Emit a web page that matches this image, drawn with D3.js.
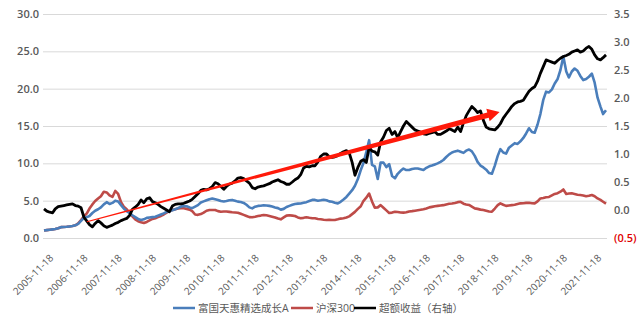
<!DOCTYPE html>
<html>
<head>
<meta charset="utf-8">
<script src="https://cdn.jsdelivr.net/npm/d3@7/dist/d3.min.js"></script>
<style>
    body { margin: 0; background: #fff; }
    text { font-family: "Open Sans", "Noto Sans CJK SC", sans-serif; }
</style>
</head>
<body>
<div id="chart"></div>
<script>
// monthly points, first one is 2005-11-18
var startDate = "2005-11-18";

var fundValues = [1.0, 1.05, 1.1, 1.15, 1.2, 1.3, 1.45, 1.47, 1.5, 1.55, 1.6, 1.7, 1.9, 2.3, 2.7, 2.8, 2.95, 3.35, 3.65, 3.85,
    4.1, 4.5, 4.8, 4.55, 4.7, 5.0, 4.9, 4.4, 3.95, 3.6, 3.35, 3.05, 2.8, 2.55, 2.42, 2.5, 2.7, 2.75, 2.8, 2.85,
    3.0, 3.15, 3.3, 3.5, 3.6, 3.72, 3.85, 4.0, 4.2, 4.28, 4.25, 4.1, 4.0, 4.2, 4.4, 4.75, 4.9, 5.05, 5.2, 5.3,
    5.2, 5.1, 4.95, 4.88, 4.95, 5.05, 5.1, 5.0, 4.87, 4.82, 4.7, 4.45, 4.1, 3.97, 4.2, 4.3, 4.32, 4.38, 4.36, 4.3,
    4.22, 4.1, 4.0, 3.8, 3.9, 4.15, 4.3, 4.45, 4.55, 4.6, 4.63, 4.72, 4.8, 4.95, 5.1, 5.1, 5.0, 5.05, 5.12, 5.05,
    4.9, 4.85, 4.72, 4.64, 4.85, 5.15, 5.5, 5.95, 6.4, 7.0, 7.9, 9.1, 10.0, 11.5, 13.1, 9.8, 9.6, 7.9, 10.1, 10.1,
    9.5, 9.9, 8.3, 8.0, 8.6, 9.0, 9.3, 9.1, 9.1, 9.25, 9.3, 9.3, 9.2, 9.1, 9.4, 9.6, 9.7, 9.85, 10.0, 10.2,
    10.45, 10.85, 11.2, 11.45, 11.6, 11.7, 11.55, 11.4, 11.7, 11.85, 11.6, 11.0, 10.2, 9.7, 9.45, 9.15, 8.7, 8.6, 9.7, 11.0,
    11.9, 11.45, 11.3, 12.1, 12.4, 12.7, 12.6, 12.95, 13.4, 14.0, 14.7, 14.2, 14.1, 15.2, 16.6, 18.5, 19.6, 19.5, 19.9, 20.7,
    21.3, 22.5, 24.3, 22.3, 21.5, 22.3, 22.7, 22.4, 21.7, 21.15, 21.3, 21.6, 22.0, 20.8, 18.8, 17.6, 16.6, 17.1];

var hs300Values = [1.0, 1.05, 1.1, 1.15, 1.2, 1.3, 1.45, 1.47, 1.5, 1.55, 1.6, 1.7, 1.95, 2.4, 2.9, 3.3, 3.95, 4.5, 4.95, 5.3,
    5.6, 6.2, 6.1, 5.7, 5.5, 6.3, 5.9, 4.8, 4.2, 3.85, 3.4, 2.9, 2.5, 2.25, 2.1, 2.0, 2.15, 2.35, 2.55, 2.65,
    2.8, 2.95, 3.15, 3.4, 3.6, 3.75, 3.85, 3.95, 4.0, 3.98, 3.9, 3.8, 3.6, 3.15, 3.1, 3.2, 3.4, 3.65, 3.75, 3.75,
    3.75, 3.6, 3.52, 3.55, 3.55, 3.5, 3.45, 3.42, 3.39, 3.25, 3.1, 2.95, 2.8, 2.78, 2.85, 2.95, 3.0, 3.08, 3.04, 2.95,
    2.86, 2.75, 2.6, 2.5, 2.75, 3.0, 3.05, 3.0, 2.95, 2.75, 2.65, 2.7, 2.77, 2.7, 2.64, 2.64, 2.55, 2.5, 2.45, 2.41,
    2.45, 2.42, 2.41, 2.5, 2.6, 2.65, 2.75, 2.9, 3.2, 3.5, 3.9, 4.25, 4.95, 5.4, 5.95, 4.9, 4.05, 4.1, 4.4, 4.05,
    3.7, 3.35, 3.4, 3.52, 3.48, 3.42, 3.4, 3.45, 3.55, 3.6, 3.66, 3.72, 3.78, 3.84, 3.95, 4.1, 4.17, 4.25, 4.3, 4.35,
    4.4, 4.5, 4.58, 4.63, 4.7, 4.8, 4.85, 4.6, 4.5, 4.42, 4.2, 3.97, 3.9, 3.8, 3.75, 3.65, 3.55, 3.52, 3.95, 4.4,
    4.64, 4.45, 4.3, 4.35, 4.4, 4.45, 4.55, 4.64, 4.66, 4.7, 4.73, 4.66, 4.64, 4.9, 5.3, 5.35, 5.45, 5.5, 5.7, 5.9,
    6.0, 6.2, 6.5, 5.9, 5.95, 5.98, 5.9, 5.8, 5.76, 5.7, 5.6, 5.65, 5.76, 5.6, 5.3, 5.1, 4.86, 4.6];

var excessValues = [0.02, -0.02, -0.04, -0.05, 0.02, 0.06, 0.07, 0.08, 0.09, 0.1, 0.11, 0.08, 0.07, 0.04, -0.13, -0.2, -0.26, -0.3, -0.24, -0.19,
    -0.23, -0.28, -0.31, -0.29, -0.27, -0.24, -0.22, -0.19, -0.17, -0.15, -0.1, 0.01, 0.05, 0.1, 0.18, 0.13, 0.2, 0.22, 0.15, 0.13,
    0.1, 0.06, 0.03, 0.0, -0.03, 0.07, 0.1, 0.11, 0.11, 0.12, 0.14, 0.16, 0.19, 0.24, 0.29, 0.35, 0.37, 0.36, 0.38, 0.42,
    0.49, 0.47, 0.42, 0.37, 0.42, 0.46, 0.48, 0.52, 0.57, 0.58, 0.56, 0.52, 0.48, 0.4, 0.38, 0.41, 0.42, 0.43, 0.45, 0.47,
    0.5, 0.52, 0.54, 0.51, 0.49, 0.46, 0.46, 0.5, 0.54, 0.57, 0.63, 0.75, 0.78, 0.77, 0.79, 0.79, 0.86, 0.96, 1.0, 1.0,
    0.95, 0.94, 0.95, 0.97, 1.01, 1.04, 1.06, 1.02, 0.85, 0.62, 0.76, 0.87, 0.9, 0.85, 1.12, 1.05, 1.04, 0.98, 1.22, 1.3,
    1.42, 1.46, 1.35, 1.4, 1.29, 1.4, 1.5, 1.58, 1.53, 1.48, 1.43, 1.41, 1.39, 1.36, 1.35, 1.37, 1.38, 1.4, 1.35, 1.35,
    1.38, 1.41, 1.45, 1.43, 1.4, 1.48, 1.4, 1.56, 1.68, 1.77, 1.85, 1.8, 1.74, 1.77, 1.6, 1.48, 1.45, 1.44, 1.43, 1.48,
    1.54, 1.64, 1.71, 1.78, 1.85, 1.9, 1.93, 1.94, 1.96, 2.04, 2.12, 2.17, 2.2, 2.3, 2.44, 2.56, 2.68, 2.66, 2.64, 2.62,
    2.67, 2.71, 2.74, 2.76, 2.78, 2.82, 2.84, 2.86, 2.82, 2.84, 2.89, 2.92, 2.87, 2.77, 2.7, 2.68, 2.72, 2.77];

var xTickLabels = ["2005-11-18", "2006-11-18", "2007-11-18", "2008-11-18", "2009-11-18", "2010-11-18", "2011-11-18",
    "2012-11-18", "2013-11-18", "2014-11-18", "2015-11-18", "2016-11-18", "2017-11-18", "2018-11-18", "2019-11-18",
    "2020-11-18", "2021-11-18"];
var leftTicks = [0, 5, 10, 15, 20, 25, 30];
var rightTicks = [-0.5, 0, 0.5, 1, 1.5, 2, 2.5, 3, 3.5];

var seriesNames = ["富国天惠精选成长A", "沪深300", "超额收益（右轴）"];

// trend arrow, on the right axis
var arrowFrom = ["2007-02-18", -0.21];
var arrowTo = ["2019-03-10", 1.75];

var parseDate = d3.timeParse("%Y-%m-%d");
var start = parseDate(startDate);

function toPoints(values) {
    return values.map(function (v, i) {
        return { date: d3.timeMonth.offset(start, i), value: v };
    });
}

var width = 640, height = 317;
var svg = d3.select("#chart").append("svg")
    .attr("width", width)
    .attr("height", height);

svg.append("rect").attr("width", width).attr("height", height).attr("fill", "#fff");

var x = d3.scaleTime()
    .domain([start, d3.timeMonth.offset(start, fundValues.length - 1)])
    .range([44, 606]);
var yLeft = d3.scaleLinear().domain([0, 30]).range([238, 14]);
var yRight = d3.scaleLinear().domain([-0.5, 3.5]).range([238, 14]);

// grid
svg.append("g").selectAll("line")
    .data(leftTicks)
    .enter().append("line")
    .attr("x1", 43).attr("x2", 607)
    .attr("y1", function (d) { return yLeft(d) + 0.5; })
    .attr("y2", function (d) { return yLeft(d) + 0.5; })
    .attr("stroke", "#d9d9d9")
    .attr("stroke-width", 1);

var leftAxis = svg.append("g")
    .attr("transform", "translate(39,0)")
    .call(d3.axisLeft(yLeft).tickValues(leftTicks).tickFormat(d3.format(".1f")).tickSize(0).tickPadding(0));

var rightAxis = svg.append("g")
    .attr("transform", "translate(614,0)")
    .call(d3.axisRight(yRight).tickValues(rightTicks).tickSize(0).tickPadding(0)
        .tickFormat(function (d) {
            return d < 0 ? "(" + d3.format(".1f")(-d) + ")" : d3.format(".1f")(d);
        }));

[leftAxis, rightAxis].forEach(function (g) {
    g.select(".domain").remove();
    g.selectAll("text")
        .attr("fill", "#595959")
        .style("font-size", "11px")
        .style("font-weight", "600");
});
rightAxis.selectAll("text")
    .filter(function (d) { return d < 0; })
    .attr("fill", "#e00000");

var xAxis = svg.append("g")
    .attr("transform", "translate(0,238)")
    .call(d3.axisBottom(x).tickValues(xTickLabels.map(parseDate)).tickSize(0)
        .tickFormat(d3.timeFormat("%Y-%m-%d")));
xAxis.select(".domain").remove();
xAxis.selectAll("text")
    .attr("fill", "#595959")
    .style("font-size", "10px")
    .attr("text-anchor", "end")
    .attr("dy", "0.35em")
    .attr("transform", "translate(5,16) rotate(-45)");

// series
var lineLeft = d3.line()
    .x(function (d) { return x(d.date); })
    .y(function (d) { return yLeft(d.value); });
var lineRight = d3.line()
    .x(function (d) { return x(d.date); })
    .y(function (d) { return yRight(d.value); });

var colors = ["#4a7ebb", "#be4b48", "#000000"];

svg.append("path").datum(toPoints(hs300Values))
    .attr("d", lineLeft).attr("fill", "none")
    .attr("stroke", colors[1]).attr("stroke-width", 2.6).attr("stroke-linejoin", "round");
svg.append("path").datum(toPoints(fundValues))
    .attr("d", lineLeft).attr("fill", "none")
    .attr("stroke", colors[0]).attr("stroke-width", 2.6).attr("stroke-linejoin", "round");
svg.append("path").datum(toPoints(excessValues))
    .attr("d", lineRight).attr("fill", "none")
    .attr("stroke", colors[2]).attr("stroke-width", 2.8).attr("stroke-linejoin", "round");

// arrow, thin at the tail and wide near the head
function drawArrow(from, to) {
    var x0 = x(parseDate(from[0])), y0 = yRight(from[1]);
    var x1 = x(parseDate(to[0])), y1 = yRight(to[1]);
    var len = Math.sqrt((x1 - x0) * (x1 - x0) + (y1 - y0) * (y1 - y0));
    var ux = (x1 - x0) / len, uy = (y1 - y0) / len;
    var px = -uy, py = ux;
    var headLen = 12, headW = 6.5, tailW = 0.6, neckW = 2.8;
    var bx = x1 - ux * headLen, by = y1 - uy * headLen;
    var pts = [
        [x0 + px * tailW, y0 + py * tailW],
        [bx + px * neckW, by + py * neckW],
        [bx + px * headW, by + py * headW],
        [x1, y1],
        [bx - px * headW, by - py * headW],
        [bx - px * neckW, by - py * neckW],
        [x0 - px * tailW, y0 - py * tailW]
    ];
    svg.append("polygon")
        .attr("points", pts.map(function (p) { return p.join(","); }).join(" "))
        .attr("fill", "#ff1a0a");
}
drawArrow(arrowFrom, arrowTo);

// legend
var legendX = [173, 291, 354];
var legend = svg.append("g").selectAll("g")
    .data(seriesNames)
    .enter().append("g")
    .attr("transform", function (d, i) { return "translate(" + legendX[i] + ",308)"; });
legend.append("line")
    .attr("x1", 0).attr("x2", 22)
    .attr("stroke", function (d, i) { return colors[i]; })
    .attr("stroke-width", 2.5);
legend.append("text")
    .attr("x", 25)
    .attr("dy", "0.35em")
    .attr("fill", "#595959")
    .style("font-size", "10.5px")
    .text(function (d) { return d; });
</script>
</body>
</html>
